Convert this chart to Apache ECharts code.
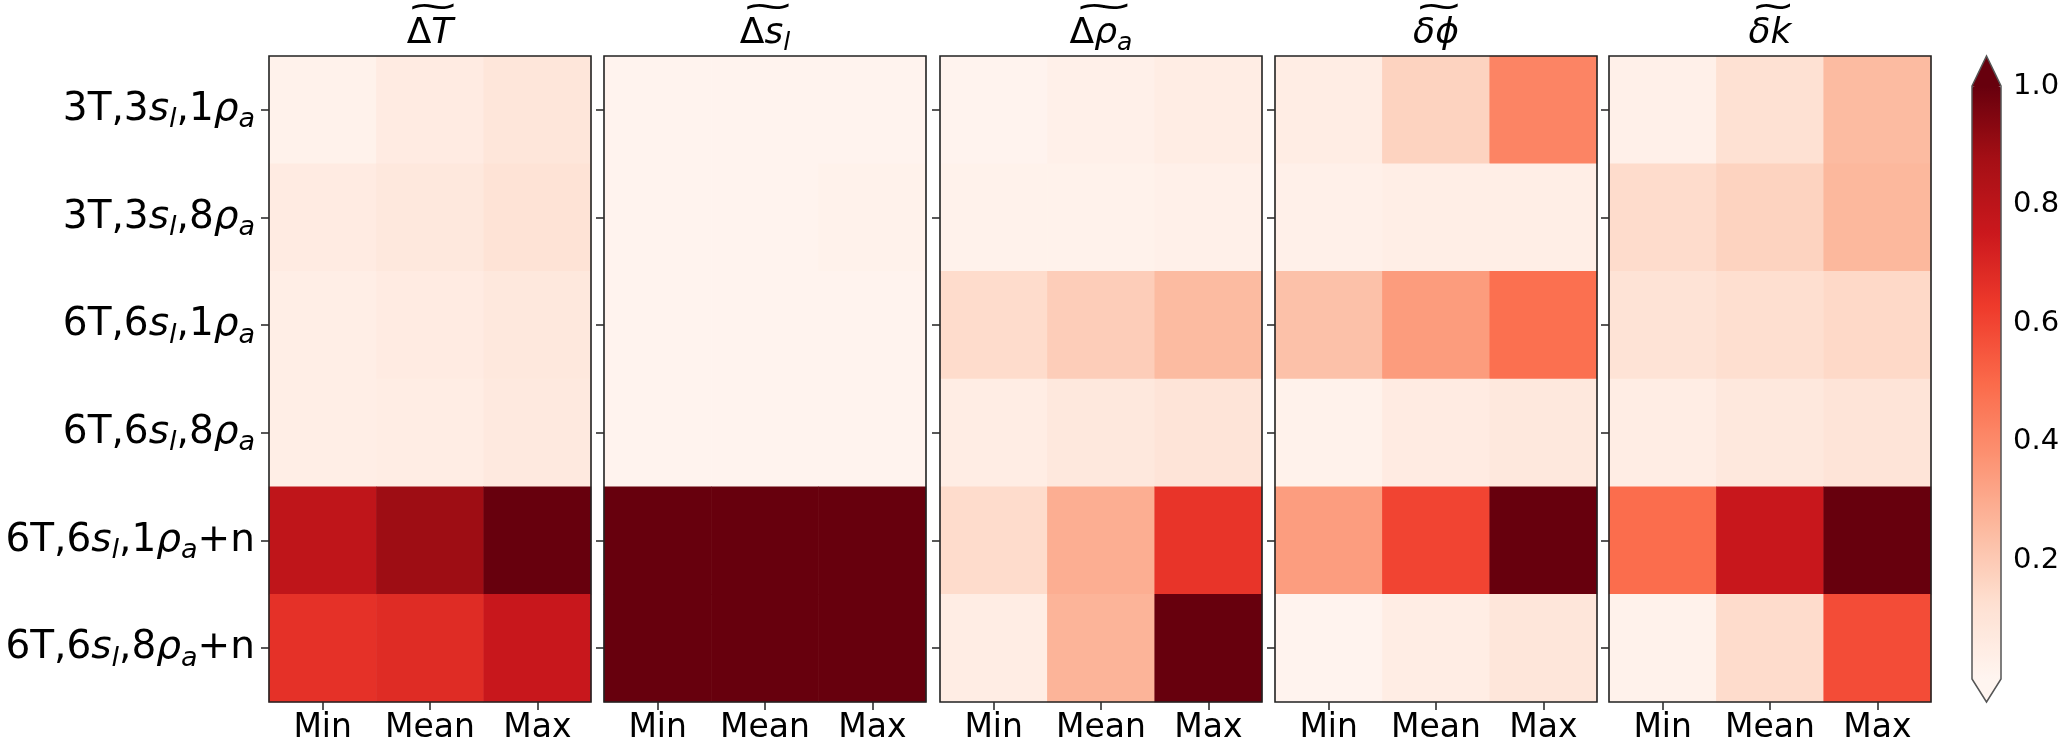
<!DOCTYPE html>
<html><head><meta charset="utf-8">
<script src="https://cdn.jsdelivr.net/npm/echarts@6/dist/echarts.min.js"></script>
<style>html,body{margin:0;padding:0;background:#fff}#c{width:2066px;height:745px}</style>
</head><body><div id="c"></div>
<script>
// ---- data ----
const columns = ['Min', 'Mean', 'Max'];
const rows = ['3T,3s_l,1ρ_a', '3T,3s_l,8ρ_a', '6T,6s_l,1ρ_a', '6T,6s_l,8ρ_a', '6T,6s_l,1ρ_a+n', '6T,6s_l,8ρ_a+n'];
const panelTitles = ['ΔT', 'Δs_l', 'Δρ_a', 'δϕ', 'δk'];
const dT   = [[0.02,0.06,0.09],[0.06,0.08,0.11],[0.04,0.06,0.08],[0.04,0.05,0.07],[0.79,0.89,1.00],[0.66,0.68,0.76]];
const dS   = [[0.01,0.01,0.01],[0.01,0.01,0.02],[0.01,0.01,0.01],[0.01,0.01,0.01],[1.00,1.00,1.00],[1.00,1.00,1.00]];
const dRho = [[0.01,0.03,0.05],[0.02,0.02,0.03],[0.14,0.19,0.25],[0.05,0.08,0.10],[0.14,0.29,0.65],[0.05,0.27,1.00]];
const dPhi = [[0.05,0.17,0.42],[0.03,0.04,0.04],[0.23,0.345,0.48],[0.02,0.06,0.08],[0.34,0.60,1.00],[0.01,0.05,0.09]];
const dK   = [[0.03,0.12,0.25],[0.14,0.17,0.26],[0.11,0.13,0.15],[0.05,0.08,0.10],[0.49,0.76,1.00],[0.02,0.14,0.58]];
const panels = [dT, dS, dRho, dPhi, dK];
const cbMin = 0, cbMax = 1, cbInterval = 0.2;
const cbTicks = [0.2, 0.4, 0.6, 0.8, 1.0];
const reds = ['#fff5f0','#fee0d2','#fcbba1','#fc9272','#fb6a4a','#ef3b2c','#cb181d','#a50f15','#67000d'];

// ---- layout / style ----
const FONT = 'DejaVu Sans';
const lefts = [269, 604, 940, 1275, 1609];
const PW = 322, TOP = 56, PH = 646;
const CBX = 1972, CBW = 29, CBT = 86, CBH = 593;
const YFS = 39, YSUB = 27;
const tildeScale = [2.2, 2.2, 2.5, 2.0, 1.8];

function subRich(s) {
  return s.replace(/s_l/g, '{i|s}{sub|l}').replace(/ρ_a/g, '{i|ρ}{sub|a}');
}
function titleRich(s) {
  let r = s.replace(/s_l/g, '\u0001').replace(/ρ_a/g, '\u0002');
  r = r.replace(/([Tkδϕ])/g, '{i|$1}');
  return r.replace(/\u0001/g, '{i|s}{sub|l}').replace(/\u0002/g, '{i|ρ}{sub|a}');
}
const labelRich = {
  i: { fontStyle: 'italic', fontSize: YFS, fontFamily: FONT, lineHeight: 48, color: '#000' },
  sub: { fontStyle: 'italic', fontSize: YSUB, fontFamily: FONT, lineHeight: 27, verticalAlign: 'bottom', color: '#000' }
};

const grids = [], xAxes = [], yAxes = [], series = [];
panels.forEach((p, k) => {
  grids.push({ left: lefts[k], top: TOP, width: PW, height: PH, show: true, z: 5,
    borderColor: '#222', borderWidth: 1.6, backgroundColor: 'transparent', outerBoundsMode: 'none' });
  xAxes.push({ type: 'category', gridIndex: k, data: columns, position: 'bottom',
    axisLine: { show: false }, splitLine: { show: false },
    axisTick: { show: true, alignWithLabel: true, length: 8, lineStyle: { color: '#222', width: 1.5 } },
    axisLabel: { fontSize: 33, fontFamily: FONT, color: '#000', margin: 10, interval: 0, hideOverlap: false } });
  yAxes.push({ type: 'category', gridIndex: k, data: rows, inverse: true,
    axisLine: { show: false }, splitLine: { show: false },
    axisTick: { show: true, alignWithLabel: true, length: 8, lineStyle: { color: '#222', width: 1.5 } },
    axisLabel: { show: k === 0, fontSize: YFS, fontFamily: FONT, color: '#000', margin: 14, interval: 0,
      lineHeight: 48, formatter: subRich, rich: labelRich } });
  const data = [];
  p.forEach((row, r) => row.forEach((v, c) => data.push([c, r, v])));
  series.push({ type: 'heatmap', xAxisIndex: k, yAxisIndex: k, data: data,
    itemStyle: { borderWidth: 0 }, emphasis: { disabled: true } });
});
// colorbar axis
grids.push({ left: CBX, top: CBT, width: CBW, height: CBH, show: false, outerBoundsMode: 'none' });
xAxes.push({ type: 'value', gridIndex: 5, show: false, min: 0, max: 1 });
yAxes.push({ type: 'value', gridIndex: 5, min: cbMin, max: cbMax, interval: cbInterval, position: 'right',
  axisLine: { show: false }, splitLine: { show: false },
  axisTick: { show: true, length: 8, customValues: cbTicks, lineStyle: { color: '#222', width: 1.5 } },
  axisLabel: { fontSize: 29, fontFamily: FONT, color: '#000', margin: 12, customValues: cbTicks,
    formatter: v => (v === 0 ? '' : v.toFixed(1)) } });

const graphic = [];
panelTitles.forEach((t, k) => {
  const cx = lefts[k] + PW / 2;
  graphic.push({ type: 'text', x: cx, y: 34, z: 10, style: {
    text: titleRich(t), fontSize: 36, fontFamily: FONT, fill: '#000', align: 'center', verticalAlign: 'middle',
    rich: { i: { fontStyle: 'italic', fontSize: 36, fontFamily: FONT, fill: '#000', lineHeight: 44 },
            sub: { fontStyle: 'italic', fontSize: 25, fontFamily: FONT, fill: '#000', lineHeight: 25, verticalAlign: 'bottom' } } } });
  graphic.push({ type: 'text', x: cx + 3, y: 8, scaleX: tildeScale[k], scaleY: 1.1, z: 10, style: {
    text: '~', fontSize: 30, fontFamily: FONT, fill: '#000', align: 'center', verticalAlign: 'middle' } });
});
// colorbar extensions + outline
graphic.push({ type: 'polygon', z: 20, shape: { points: [[CBX, CBT], [CBX + CBW, CBT], [CBX + CBW / 2, TOP]] }, style: { fill: reds[8] } });
graphic.push({ type: 'polygon', z: 20, shape: { points: [[CBX, CBT + CBH], [CBX + CBW, CBT + CBH], [CBX + CBW / 2, TOP + PH]] }, style: { fill: reds[0] } });
graphic.push({ type: 'polygon', z: 21, shape: { points: [[CBX, CBT], [CBX + CBW / 2, TOP], [CBX + CBW, CBT], [CBX + CBW, CBT + CBH], [CBX + CBW / 2, TOP + PH], [CBX, CBT + CBH]] },
  style: { fill: 'none', stroke: '#555', lineWidth: 1.5 } });

const chart = echarts.init(document.getElementById('c'));
chart.setOption({
  animation: false,
  backgroundColor: '#fff',
  grid: grids, xAxis: xAxes, yAxis: yAxes, series: series,
  visualMap: { type: 'continuous', min: cbMin, max: cbMax, inRange: { color: reds },
    left: CBX, top: CBT, itemWidth: CBW, itemHeight: CBH, padding: 0, text: null,
    calculable: false, hoverLink: false, seriesIndex: [0, 1, 2, 3, 4] },
  graphic: graphic
});
</script></body></html>
